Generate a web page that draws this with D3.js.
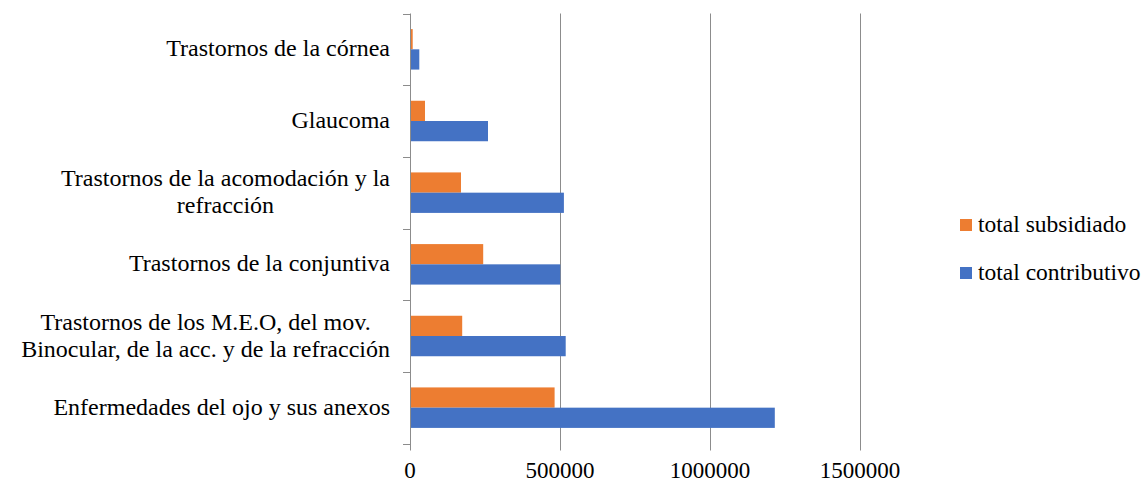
<!DOCTYPE html>
<html>
<head>
<meta charset="utf-8">
<script src="https://cdn.jsdelivr.net/npm/d3@7"></script>
<style>
  html, body { margin: 0; padding: 0; background: #fff; }
  svg { display: block; }
</style>
</head>
<body>
<svg id="chart" width="1146" height="486"></svg>
<script>
const categories = [
  "Trastornos de la córnea",
  "Glaucoma",
  "Trastornos de la acomodación y la\nrefracción",
  "Trastornos de la conjuntiva",
  "Trastornos de los M.E.O, del mov.\nBinocular, de la acc. y de la refracción",
  "Enfermedades del ojo y sus anexos"
];
const seriesNames = ["total subsidiado", "total contributivo"];
const subsidiado = [9000, 50000, 170000, 244000, 174000, 482000];
const contributivo = [31000, 260000, 513000, 501000, 519000, 1216000];
const xTicks = [0, 500000, 1000000, 1500000];
const colors = ["#ED7D31", "#4472C4"];

(function () {
const svg = d3.select("#chart");
const FONT = "'Liberation Serif', 'Times New Roman', serif";
const pLeft = 410, pRight = 860, pTop = 13.5, pBottom = 443.5;

const x = d3.scaleLinear().domain([0, 1500000]).range([pLeft, pRight]);
const y = d3.scaleBand().domain(categories).range([pTop, pBottom]).paddingInner(0).paddingOuter(0);
const ySub = d3.scaleBand().domain(seriesNames).range([0, y.bandwidth()]).paddingInner(0).paddingOuter(0.77);

const gridColor = "#8c8c8c";

svg.append("g").selectAll("line").data(xTicks.filter(d => d > 0)).join("line")
  .attr("x1", d => Math.round(x(d)) + 0.5).attr("x2", d => Math.round(x(d)) + 0.5)
  .attr("y1", pTop).attr("y2", pBottom + 7)
  .attr("stroke", gridColor).attr("stroke-width", 1);

const data = categories.map((c, i) => ({ c, vals: [subsidiado[i], contributivo[i]] }));
const groups = svg.append("g").selectAll("g").data(data).join("g")
  .attr("transform", d => `translate(0,${y(d.c)})`);
groups.selectAll("rect").data(d => d.vals.map((v, j) => ({ v, s: seriesNames[j], j }))).join("rect")
  .attr("x", x(0))
  .attr("y", d => ySub(d.s))
  .attr("width", d => x(d.v) - x(0))
  .attr("height", ySub.bandwidth())
  .attr("fill", d => colors[d.j]);

svg.append("line")
  .attr("x1", pLeft + 0.5).attr("x2", pLeft + 0.5)
  .attr("y1", pTop).attr("y2", pBottom + 7)
  .attr("stroke", gridColor).attr("stroke-width", 1);

const boundaries = categories.map(c => y(c)).concat([pBottom]);
svg.append("g").selectAll("line").data(boundaries).join("line")
  .attr("x1", pLeft - 7).attr("x2", pLeft)
  .attr("y1", d => Math.round(d) + 0.5).attr("y2", d => Math.round(d) + 0.5)
  .attr("stroke", gridColor).attr("stroke-width", 1);

svg.append("g").selectAll("text").data(xTicks).join("text")
  .attr("x", d => x(d)).attr("y", 478)
  .attr("text-anchor", "middle")
  .attr("font-family", FONT)
  .attr("font-size", 23)
  .attr("fill", "#000")
  .text(d => d3.format("d")(d));

const lineH = 27;
categories.forEach(c => {
  const lines = c.split("\n");
  const cy = y(c) + y.bandwidth() / 2;
  const g = svg.append("g");
  const texts = lines.map((ln, k) => g.append("text")
    .attr("y", cy + 7 - (lines.length - 1) * lineH / 2 + k * lineH)
    .attr("font-family", FONT)
    .attr("font-size", 24)
    .attr("fill", "#000")
    .text(ln));
  const widths = texts.map(t => t.node().getComputedTextLength());
  const maxW = Math.max(...widths);
  const center = 390 - maxW / 2;
  texts.forEach(t => t.attr("x", center).attr("text-anchor", "middle"));
});

const legend = svg.append("g");
seriesNames.forEach((s, i) => {
  const ly = 232 + i * 48;
  legend.append("rect").attr("x", 960).attr("y", ly - 13).attr("width", 12).attr("height", 12)
    .attr("fill", colors[i]);
  legend.append("text").attr("x", 978).attr("y", ly)
    .attr("font-family", FONT)
    .attr("font-size", 23.5)
    .attr("fill", "#000")
    .text(s);
});
})();
</script>
</body>
</html>
